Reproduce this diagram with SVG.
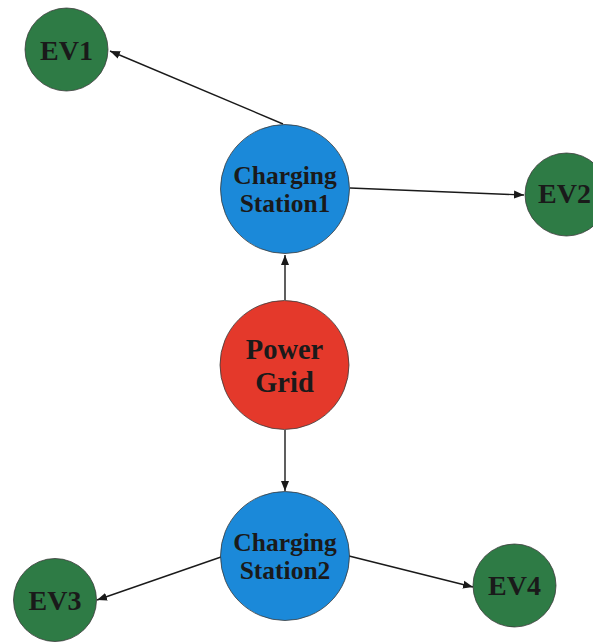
<svg xmlns="http://www.w3.org/2000/svg" width="593" height="642" viewBox="0 0 593 642">
<style>
.ev{fill:#2e7b45;stroke:#3a3a3a;stroke-width:0.8}
.cs{fill:#1b89d9;stroke:#3a3a3a;stroke-width:0.8}
.pg{fill:#e4392b;stroke:#3a3a3a;stroke-width:0.8}
text{font-family:"Liberation Serif","Times New Roman",serif;font-weight:bold;fill:#1a1a1a;text-anchor:middle}
.t28{font-size:28px}
.t29{font-size:28.5px}
.t25{font-size:25.5px}
.edge{stroke:#1a1a1a;stroke-width:1.4;fill:none;marker-end:url(#arr)}
</style>
<defs>
<marker id="arr" viewBox="0 0 10 10" refX="10" refY="5" markerWidth="10" markerHeight="10" markerUnits="userSpaceOnUse" orient="auto">
<path d="M0,1 L10,5 L0,9 z" fill="#1a1a1a"/>
</marker>
</defs>
<rect width="593" height="642" fill="#ffffff"/>
<g id="connectors">
<line class="edge" x1="283" y1="124" x2="110" y2="51"/>
<line class="edge" x1="350" y1="188" x2="524" y2="195"/>
<line class="edge" x1="285" y1="300" x2="285" y2="255"/>
<line class="edge" x1="285" y1="430" x2="285" y2="491"/>
<line class="edge" x1="221" y1="557" x2="97" y2="600"/>
<line class="edge" x1="349" y1="556" x2="473" y2="587"/>
</g>
<g id="ev1">
<circle class="ev" cx="66.5" cy="49.5" r="41.5"/>
<text class="t28" x="66.5" y="60">EV1</text>
</g>
<g id="cs1">
<circle class="cs" cx="285" cy="189" r="64.5"/>
<text class="t25" x="285" y="184">Charging</text>
<text class="t25" x="285" y="211.5">Station1</text>
</g>
<g id="ev2">
<circle class="ev" cx="566.5" cy="194.5" r="41.5"/>
<text class="t28" x="564.5" y="203">EV2</text>
</g>
<g id="power-grid">
<circle class="pg" cx="284.5" cy="365" r="64.5"/>
<text class="t29" x="284.5" y="359">Power</text>
<text class="t29" x="284.5" y="391.5">Grid</text>
</g>
<g id="cs2">
<circle class="cs" cx="285" cy="556" r="64.5"/>
<text class="t25" x="285" y="550.5">Charging</text>
<text class="t25" x="285" y="579">Station2</text>
</g>
<g id="ev3">
<circle class="ev" cx="55" cy="600" r="41.5"/>
<text class="t28" x="55" y="610">EV3</text>
</g>
<g id="ev4">
<circle class="ev" cx="514.5" cy="585.5" r="41.5"/>
<text class="t28" x="514.5" y="595">EV4</text>
</g>
</svg>
